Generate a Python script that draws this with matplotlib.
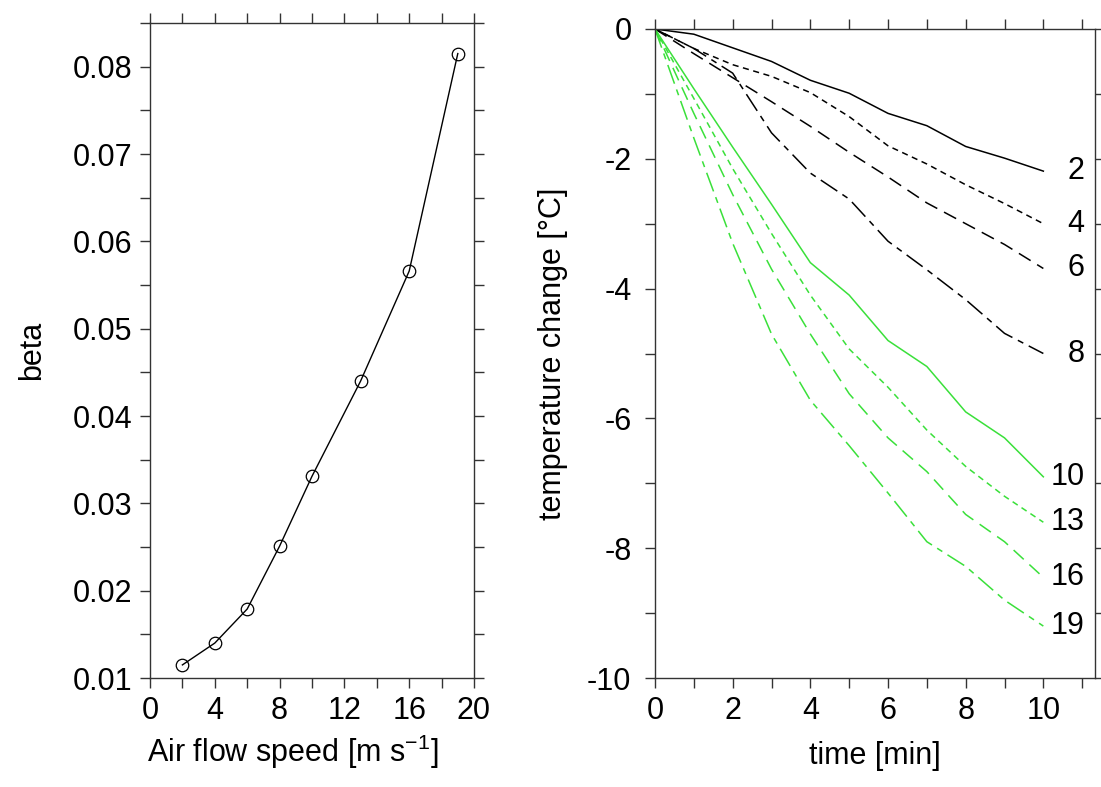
import matplotlib.pyplot as plt

plt.rcParams['font.family'] = ['Liberation Sans', 'DejaVu Sans']
plt.rcParams['mathtext.default'] = 'regular'

# left panel: beta vs air flow speed
speed = [2, 4, 6, 8, 10, 13, 16, 19]
beta = [0.0115, 0.0140, 0.0179, 0.0251, 0.0331, 0.0440, 0.0566, 0.0815]

# right panel: temperature change vs time, one curve per speed
t = [0, 1, 2, 3, 4, 5, 6, 7, 8, 9, 10]
dT_2 = [0, -0.08, -0.29, -0.50, -0.79, -0.99, -1.30, -1.49, -1.81, -1.99, -2.19]
dT_4 = [0, -0.30, -0.55, -0.73, -0.98, -1.35, -1.80, -2.08, -2.40, -2.69, -3.00]
dT_6 = [0, -0.38, -0.75, -1.12, -1.50, -1.90, -2.28, -2.68, -3.00, -3.32, -3.69]
dT_8 = [0, -0.30, -0.68, -1.60, -2.22, -2.62, -3.27, -3.71, -4.17, -4.69, -5.00]
dT_10 = [0, -0.92, -1.82, -2.70, -3.60, -4.10, -4.80, -5.20, -5.90, -6.30, -6.90]
dT_13 = [0, -1.07, -2.15, -3.15, -4.10, -4.93, -5.52, -6.18, -6.74, -7.20, -7.60]
dT_16 = [0, -1.30, -2.55, -3.70, -4.70, -5.62, -6.30, -6.82, -7.48, -7.90, -8.45]
dT_19 = [0, -1.68, -3.30, -4.70, -5.72, -6.42, -7.15, -7.90, -8.28, -8.80, -9.20]
curve_names = ['2', '4', '6', '8', '10', '13', '16', '19']
curves = [dT_2, dT_4, dT_6, dT_8, dT_10, dT_13, dT_16, dT_19]

green = '#3ae03a'
styles = [
    ('black', '-'),
    ('black', (0, (4, 3))),
    ('black', (0, (9, 5))),
    ('black', (0, (13, 4, 4, 4))),
    (green, '-'),
    (green, (0, (4, 3))),
    (green, (0, (9, 5))),
    (green, (0, (13, 4, 4, 4))),
]

fig = plt.figure(figsize=(11.01, 7.87), dpi=100)
ax1 = fig.add_axes([150/1101, 1-678/787, 324/1101, 655/787])
ax2 = fig.add_axes([655/1101, 1-678/787, 440/1101, 649/787])

fs = 22
for ax in (ax1, ax2):
    for s in ax.spines.values():
        s.set_color('#333333')
        s.set_linewidth(1.0)
    ax.tick_params(direction='out', length=7, width=1.0, color='#333333',
                   labelsize=fs, top=True, right=True, pad=6)
ax2.tick_params(axis='y', pad=10)

ax1.plot(speed, beta, color='black', lw=1.0, marker='o', ms=9,
         mfc='none', mec='black', mew=0.9)
ax1.set_xlim(0, 20)
ax1.set_ylim(0.01, 0.085)
ax1.set_xticks(range(0, 21, 2))
ax1.set_xticklabels([str(v) if v % 4 == 0 else '' for v in range(0, 21, 2)])
yt = [0.01 + 0.005 * i for i in range(16)]
ax1.set_yticks(yt)
ax1.set_yticklabels(['%.2f' % v if i % 2 == 0 else '' for i, v in enumerate(yt)])
ax1.set_xlabel('Air flow speed [m s$^{-1}$]', fontsize=fs)
ax1.xaxis.set_label_coords(0.44, -0.084)
ax1.set_ylabel('beta', fontsize=fs, labelpad=18)

for name, y, (c, ls) in zip(curve_names, curves, styles):
    ax2.plot(t, y, color=c, linestyle=ls, lw=1.1)
    ax2.annotate(name, xy=(t[-1], y[-1]), xytext=(29.5, 0),
                 textcoords='offset points', ha='right', va='center',
                 fontsize=fs)
ax2.set_xlim(0, 11.33)
ax2.set_ylim(-10, 0)
ax2.set_xticks(range(0, 12))
ax2.set_xticklabels([str(v) if v % 2 == 0 and v <= 10 else '' for v in range(0, 12)])
ax2.set_yticks(range(-10, 1))
ax2.set_yticklabels([str(v) if v % 2 == 0 else '' for v in range(-10, 1)])
ax2.set_xlabel('time [min]', fontsize=fs, labelpad=11)
ax2.set_ylabel('temperature change [°C]', fontsize=fs, labelpad=14)

fig.savefig('out.png', dpi=100)
